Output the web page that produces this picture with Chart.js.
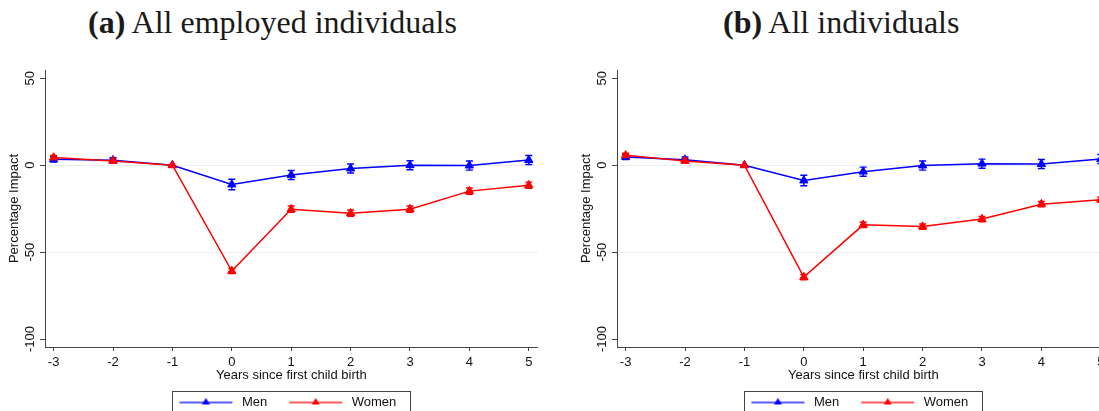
<!DOCTYPE html>
<html><head><meta charset="utf-8">
<script src="https://cdn.jsdelivr.net/npm/chart.js@4.4.0/dist/chart.umd.min.js"></script>
<style>
html,body{margin:0;padding:0;background:#fff;width:1099px;height:411px;overflow:hidden;position:relative;}
.ttl{position:absolute;top:4px;font-family:"Liberation Serif","Times New Roman",serif;font-size:32px;color:#1a1a1a;white-space:nowrap;line-height:36px;}
.ttl b{font-weight:bold;}
.pan{position:absolute;top:0;width:550px;height:419px;}
</style></head><body>
<div class="ttl" style="left:88px"><b>(a)</b> All employed individuals</div>
<div class="ttl" style="left:723px"><b>(b)</b> All individuals</div>
<div class="pan" style="left:0"><canvas id="ca"></canvas></div>
<div class="pan" style="left:572px"><canvas id="cb"></canvas></div>
<script>
// ---- data ----
const years = [-3, -2, -1, 0, 1, 2, 3, 4, 5];
const yTicks = [-100, -50, 0, 50];
const seriesNames = ['Men', 'Women'];
const xTitle = 'Years since first child birth';
const yTitle = 'Percentage Impact';

// (a) All employed individuals
const menA      = [3.4, 2.9, 0, -11.1, -5.6, -1.9, 0.0, -0.2, 3.0];
const menAErr   = [1.5, 1.5, 0, 3.0, 2.6, 2.6, 2.6, 2.6, 2.6];
const womenA    = [4.4, 2.5, 0, -60.9, -25.3, -27.6, -25.3, -14.9, -11.5];
const womenAErr = [1.2, 1.2, 0, 1.5, 1.8, 1.8, 1.8, 1.8, 1.8];

// (b) All individuals
const menB      = [4.8, 3.2, 0, -8.8, -3.7, -0.2, 0.9, 0.7, 3.6];
const menBErr   = [1.5, 1.5, 0, 3.0, 2.6, 2.6, 2.6, 2.6, 2.6];
const womenB    = [5.7, 2.5, 0, -64.4, -34.3, -35.3, -31.0, -22.4, -19.8];
const womenBErr = [1.2, 1.2, 0, 1.5, 1.5, 1.5, 1.5, 1.5, 1.5];

// ---- styling ----
const BLUE = '#0000ff', RED = '#ff0000';
const AXIS = '#444444', GRID = '#e6eef1', TXT = '#111111';
const SANS = '"Liberation Sans", Arial, sans-serif';
const LEG_PAD = 10;

function legendIcon(color) {
  const c = document.createElement('canvas');
  c.width = 68; c.height = 12;
  const g = c.getContext('2d');
  g.strokeStyle = color; g.globalAlpha = 0.85; g.lineWidth = 1.6;
  g.beginPath(); g.moveTo(12, 6); g.lineTo(65, 6); g.stroke();
  g.globalAlpha = 1; g.fillStyle = color;
  g.beginPath(); g.moveTo(38.5, 1.5); g.lineTo(42.5, 8); g.lineTo(34.5, 8); g.closePath(); g.fill();
  return c;
}
const icons = [legendIcon(BLUE), legendIcon(RED)];

const errorBars = {
  id: 'errorBars',
  beforeDatasetsDraw(chart) {
    const {ctx, scales: {x, y}} = chart;
    chart.data.datasets.forEach((ds) => {
      ctx.save();
      ctx.strokeStyle = ds.borderColor; ctx.lineWidth = 1.4;
      ds.vals.forEach((v, j) => {
        const e = ds.errors[j];
        if (!e) return;
        const px = x.getPixelForValue(years[j]);
        const y1 = y.getPixelForValue(v + e), y2 = y.getPixelForValue(v - e);
        ctx.beginPath();
        ctx.moveTo(px, y1); ctx.lineTo(px, y2);
        ctx.moveTo(px - 3.5, y1); ctx.lineTo(px + 3.5, y1);
        ctx.moveTo(px - 3.5, y2); ctx.lineTo(px + 3.5, y2);
        ctx.stroke();
      });
      ctx.restore();
    });
  }
};

const legendFrame = {
  id: 'legendFrame',
  afterLayout(chart) {
    if (chart.legend) { chart.legend.left += 13; chart.legend.right += 13; }
  },
  afterDraw(chart) {
    const L = chart.legend;
    if (!L || !L.lineWidths) return;
    const lw = L.lineWidths[0];
    const sx = (L.left + LEG_PAD + L.right - lw) / 2;
    const x1 = sx + 5, x2 = sx + lw - LEG_PAD + 14;
    const yTop = L.top + LEG_PAD + 6.5 - 12;
    const ctx = chart.ctx;
    ctx.save();
    ctx.strokeStyle = AXIS; ctx.lineWidth = 1;
    ctx.strokeRect(Math.round(x1) + 0.5, Math.round(yTop) + 0.5, Math.round(x2 - x1), 40);
    ctx.restore();
  }
};

function makeChart(id, men, menErr, women, womenErr) {
  const mk = (label, vals, errors, color, order) => ({
    label, data: years.map((yr, i) => ({x: yr, y: vals[i]})), vals, errors,
    borderColor: color, backgroundColor: color, borderWidth: 1.5,
    pointStyle: 'triangle', pointRadius: 4.8, pointBackgroundColor: color, pointBorderColor: color,
    pointBorderWidth: 1, tension: 0, order
  });
  const dsMen = mk(seriesNames[0], men, menErr, BLUE, 1);
  const dsWomen = mk(seriesNames[1], women, womenErr, RED, 0);

  return new Chart(document.getElementById(id), {
    type: 'line',
    data: {datasets: [dsMen, dsWomen]},
    options: {
      responsive: true, maintainAspectRatio: false, animation: false,
      layout: {padding: {top: 70, right: 12.3, left: 0, bottom: 0}},
      plugins: {
        tooltip: {enabled: false},
        legend: {
          position: 'bottom',
          labels: {
            usePointStyle: true, pointStyleWidth: 68, padding: LEG_PAD,
            font: {family: SANS, size: 13}, color: TXT,
            generateLabels: (chart) => chart.data.datasets.map((ds, i) => ({
              text: ds.label, pointStyle: icons[i], datasetIndex: i, hidden: false,
              fillStyle: 'rgba(0,0,0,0)', strokeStyle: 'rgba(0,0,0,0)', lineWidth: 0, fontColor: TXT
            }))
          }
        }
      },
      scales: {
        x: {
          type: 'linear', min: -3.145, max: 5.15,
          afterBuildTicks: (s) => { s.ticks = years.map(v => ({value: v})); },
          afterFit: (s) => { s.height = 39; },
          border: {display: true, color: AXIS, width: 1},
          grid: {drawOnChartArea: false, drawTicks: true, tickLength: 4, tickColor: AXIS, tickWidth: 1},
          ticks: {font: {family: SANS, size: 13}, color: TXT, padding: 4, maxRotation: 0, autoSkip: false},
          title: {display: true, text: xTitle, font: {family: SANS, size: 13}, color: TXT, padding: {top: 0, bottom: 2.5}}
        },
        y: {
          type: 'linear', min: -104.6, max: 54.8,
          afterBuildTicks: (s) => { s.ticks = yTicks.map(v => ({value: v})); },
          afterFit: (s) => { s.width = 45; s.paddingTop = 0; s.paddingBottom = 0; },
          border: {display: true, color: AXIS, width: 1},
          grid: {
            drawOnChartArea: true, drawTicks: true, tickLength: 5, tickColor: AXIS, tickWidth: 1,
            color: (c) => (c.tick && (c.tick.value === 0 || c.tick.value === -50)) ? GRID : 'rgba(0,0,0,0)',
            lineWidth: 1
          },
          ticks: {font: {family: SANS, size: 13}, color: TXT, minRotation: 90, maxRotation: 90, crossAlign: 'center', padding: -3, autoSkip: false},
          title: {display: true, text: yTitle, font: {family: SANS, size: 13}, color: TXT, padding: {top: 7, bottom: 0}}
        }
      }
    },
    plugins: [errorBars, legendFrame]
  });
}

makeChart('ca', menA, menAErr, womenA, womenAErr);
makeChart('cb', menB, menBErr, womenB, womenBErr);
</script>
</body></html>
